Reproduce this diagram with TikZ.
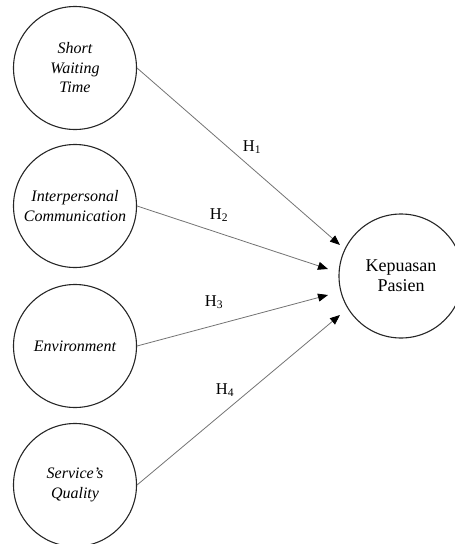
\documentclass[tikz,border=0pt]{standalone}
\usepackage{fontspec}
\setmainfont{Liberation Serif}
\usetikzlibrary{arrows.meta}
\begin{document}
\begin{tikzpicture}[x=1pt,y=-1pt,
  var/.style={draw=black!85, line width=1.1pt, circle, minimum size=123pt, inner sep=0pt, align=center, font=\fontsize{16}{19.5}\selectfont\itshape},
  dep/.style={draw=black!85, line width=1.1pt, circle, minimum size=124pt, inner sep=0pt, align=center, font=\fontsize{18}{20}\selectfont},
  hpath/.style={draw=black!55, line width=0.8pt, -{Triangle[length=10pt,width=8pt,color=black]}},
  lab/.style={font=\fontsize{16.5}{18}\selectfont}]
\useasboundingbox (0,0) rectangle (455,544);
\node[var] (c1) at (75,68) {Short\\Waiting\\Time};
\node[var] (c2) at (75,206) {Interpersonal\\Communication};
\node[var] (c3) at (75,346) {Environment};
\node[var] (c4) at (75,485) {Service's\\Quality};
\node[dep] (k) at (401,276) {Kepuasan\\Pasien};
\coordinate (t1) at (340,245);
\coordinate (t2) at (328,269);
\coordinate (t3) at (328,295);
\coordinate (t4) at (340,315);
\draw[hpath] (c1.east) -- (t1);
\draw[hpath] (c2.east) -- (t2);
\draw[hpath] (c3.east) -- (t3);
\draw[hpath] (c4.east) -- (t4);
\node[lab] (h1) at (252,147) {H\textsubscript{1}};
\node[lab] (h2) at (219,215) {H\textsubscript{2}};
\node[lab] (h3) at (214,302) {H\textsubscript{3}};
\node[lab] (h4) at (225,390) {H\textsubscript{4}};
\end{tikzpicture}
\end{document}
